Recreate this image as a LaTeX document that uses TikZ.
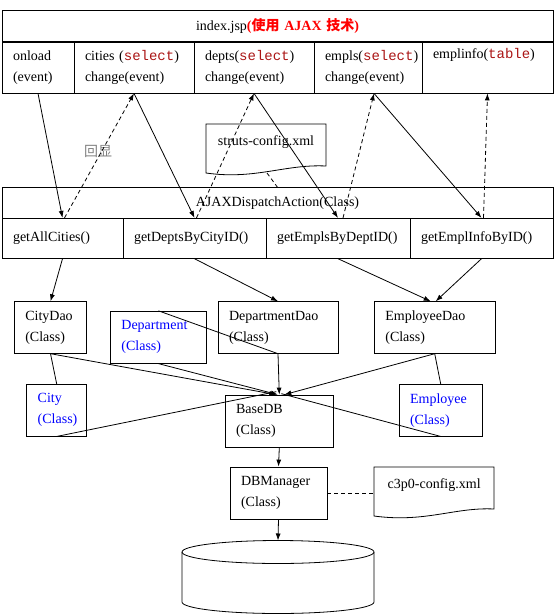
\documentclass[tikz,border=0pt]{standalone}
\usepackage{fontspec}
\setmainfont{Liberation Serif}
\setmonofont{Liberation Mono}
\newfontfamily\cjk{Noto Sans CJK SC}
\usetikzlibrary{arrows.meta}

\definecolor{codered}{RGB}{170,20,20}
\definecolor{classblue}{RGB}{0,0,255}
\newcommand{\code}[1]{\textcolor{codered}{\texttt{#1}}}

\tikzset{
  cell/.style={draw, inner xsep=11pt, inner ysep=0pt, align=left},
  dep/.style={dash pattern=on 4pt off 3pt},
}

\begin{document}
\begin{tikzpicture}[x=1pt, y=-1pt, line width=0.8pt, >={Latex[length=7pt,width=5pt]},
    font=\fontsize{14}{21}\selectfont]
  \useasboundingbox (0,0) rectangle (558,615);
  % page index.jsp
  \node[cell, text width=529pt, minimum height=31pt, align=center] (page) at (277.5,26.2)
    {index.jsp\textcolor{red}{\bfseries ({\cjk 使用} AJAX {\cjk 技术})}};
  \node[cell, text width=50pt, minimum height=51pt] (onload) at (38,67.5) {onload\\(event)};
  \node[cell, text width=98pt, minimum height=51pt] (cities) at (134,67.5) {cities (\code{select})\\change(event)};
  \node[cell, text width=98pt, minimum height=51pt] (depts) at (254,67.5) {depts(\code{select})\\change(event)};
  \node[cell, text width=86pt, minimum height=51pt] (empls) at (368,67.5) {empls(\code{select})\\change(event)};
  \node[cell, text width=109pt, minimum height=51pt] (emplinfo) at (487.5,67.5) {emplinfo(\code{table})\\\strut};

  % struts-config.xml
  \draw (206,124) -- (326,124) -- (326,166) .. controls (285,164) and (255,180) .. (206,173) -- cycle;
  \node (struts) at (266,142) {struts-config.xml};
  \coordinate (strutsfoot) at (267,173);
  \node[text=gray] (echo) at (98,151) {\cjk 回显};

  % dispatch action
  \node[cell, text width=529pt, minimum height=30.6pt, align=center] (action) at (277.5,203) {AJAXDispatchAction(Class)};
  \node[cell, text width=99pt, minimum height=40pt] (allcities) at (62.5,238.3) {getAllCities()};
  \node[cell, text width=121pt, minimum height=40pt] (deptsbycity) at (194.5,238.3) {getDeptsByCityID()};
  \node[cell, text width=122pt, minimum height=40pt] (emplsbydept) at (338,238.3) {getEmplsByDeptID()};
  \node[cell, text width=121pt, minimum height=40pt] (emplinfobyid) at (481.5,238.3) {getEmplInfoByID()};

  \draw[->] (onload.south) -- (allcities.north);
  \draw[dep, ->] ([xshift=2pt]allcities.north) -- (cities.south);
  \draw[->] (cities.south) -- (deptsbycity.north);
  \draw[dep, ->] ([xshift=2pt]deptsbycity.north) -- (depts.south);
  \draw[->] (depts.south) -- (emplsbydept.north);
  \draw[dep, ->] ([xshift=5pt]emplsbydept.north) -- ([xshift=6pt]empls.south);
  \draw[->] ([xshift=6pt]empls.south) -- (emplinfobyid.north);
  \draw[dep, ->] ([xshift=2pt]emplinfobyid.north) -- (emplinfo.south);
  \draw[dep] (strutsfoot) -- (action.north);

  % dao classes
  \node[cell, text width=50.4pt, minimum height=51.6pt] (citydao) at (50.5,327.5) {CityDao\\(Class)};
  \node[cell, text width=74pt, minimum height=52pt, text=classblue] (department) at (158.4,337.2) {Department\\(Class)};
  \node[cell, text width=98pt, minimum height=51.6pt] (deptdao) at (278,327.5) {DepartmentDao\\(Class)};
  \node[cell, text width=98.7pt, minimum height=51.6pt] (empdao) at (434.7,327.5) {EmployeeDao\\(Class)};
  \node[cell, text width=38pt, minimum height=51.7pt, text=classblue] (city) at (56.7,410.2) {City\\(Class)};
  \node[cell, text width=61.3pt, minimum height=51.7pt, text=classblue] (employee) at (440.7,410.2) {Employee\\(Class)};
  \node[cell, text width=86.5pt, minimum height=52.3pt] (basedb) at (279.3,421.2) {BaseDB\\(Class)};
  \node[cell, text width=75pt, minimum height=52pt] (dbman) at (278.5,493) {DBManager\\(Class)};

  \draw[->] (allcities.south) -- (citydao.north);
  \draw[->] (deptsbycity.south) -- (deptdao.north);
  \draw[->] (emplsbydept.south) -- ([xshift=-4pt]empdao.north);
  \draw[->] (emplinfobyid.south) -- ([xshift=1pt]empdao.north);

  \draw (citydao.south) -- (city.north);
  \draw (empdao.south) -- (employee.north);
  \draw (department.north) -- (deptdao.south);
  \draw[->] (citydao.south) -- ([xshift=-3pt]basedb.north);
  \draw[->] (department.south) -- ([xshift=-1.5pt]basedb.north);
  \draw[->] (deptdao.south) -- (basedb.north);
  \draw[->] (empdao.south) -- ([xshift=5pt]basedb.north);
  \draw (city.south) -- ([xshift=-3pt, yshift=3pt]basedb.north);
  \draw (employee.south) -- ([xshift=2pt, yshift=1pt]basedb.north);
  \draw[->] (basedb.south) -- (dbman.north);

  % c3p0-config.xml
  \draw (374,467) -- (494,467) -- (494,509) .. controls (455,507) and (425,523) .. (374,516) -- cycle;
  \node[anchor=west] (c3p0) at (384,485) {c3p0-config.xml};
  \coordinate (c3p0west) at (374,493);
  \draw[dep] (dbman.east) -- (c3p0west);

  % database
  \coordinate (dbtop) at (278,540.5);
  \draw (278,552) ellipse [x radius=96, y radius=11.5];
  \draw (182,552) -- (182,602) arc[start angle=180, end angle=0, x radius=96, y radius=11.5] -- (374,552);
  \draw[->] (dbman.south) -- (dbtop);
\end{tikzpicture}
\end{document}
